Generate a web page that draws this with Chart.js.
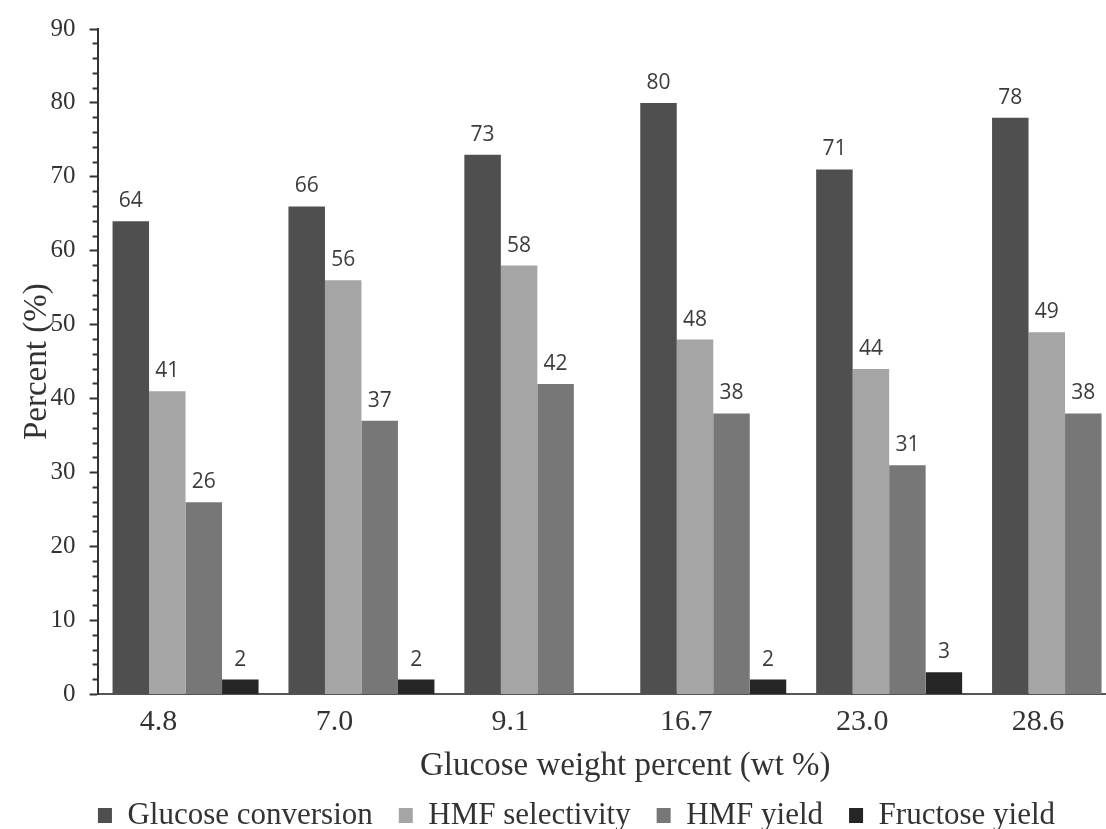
<!DOCTYPE html>
<html><head><meta charset="utf-8">
<script src="https://cdn.jsdelivr.net/npm/chart.js@4/dist/chart.umd.min.js"></script>
<style>
html,body{margin:0;padding:0;background:#fff;overflow:hidden;}
#wrap{width:1106px;height:829px;overflow:hidden;position:relative;background:#fff;}
canvas{display:block;}
</style></head><body>
<div id="wrap"><canvas id="c" width="1153" height="841"></canvas></div>
<script>
const categories = ['4.8', '7.0', '9.1', '16.7', '23.0', '28.6'];
const glucoseConversion = [64, 66, 73, 80, 71, 78];
const hmfSelectivity = [41, 56, 58, 48, 44, 49];
const hmfYield = [26, 37, 42, 38, 31, 38];
const fructoseYield = [2, 2, null, 2, 3, null];
const seriesNames = ['Glucose conversion', 'HMF selectivity', 'HMF yield', 'Fructose yield'];
const yMin = 0, yMax = 90, yMajorStep = 10, yMinorStep = 2;

const serif = '"Liberation Serif", "Times New Roman", serif';

const valueLabels = {
  id: 'valueLabels',
  afterDatasetsDraw(chart) {
    const ctx = chart.ctx;
    ctx.save();
    ctx.font = '21px "Open Sans", sans-serif';
    ctx.fillStyle = '#3c3c3c';
    ctx.textAlign = 'center';
    ctx.textBaseline = 'alphabetic';
    chart.data.datasets.forEach((ds, i) => {
      const meta = chart.getDatasetMeta(i);
      meta.data.forEach((bar, j) => {
        const v = ds.data[j];
        if (v === null || v === undefined) return;
        ctx.fillText(String(v), bar.x, bar.y - 14);
      });
    });
    ctx.restore();
  }
};

new Chart(document.getElementById('c'), {
  type: 'bar',
  data: {
    labels: categories,
    datasets: [
      { label: seriesNames[0], data: glucoseConversion, backgroundColor: '#4f4f4f' },
      { label: seriesNames[1], data: hmfSelectivity, backgroundColor: '#a5a5a5' },
      { label: seriesNames[2], data: hmfYield, backgroundColor: '#777777' },
      { label: seriesNames[3], data: fructoseYield, backgroundColor: '#262626' }
    ]
  },
  options: {
    responsive: false,
    animation: false,
    devicePixelRatio: 1,
    layout: { padding: { top: 29, left: 0, right: 0, bottom: 0 } },
    datasets: { bar: { categoryPercentage: 0.83, barPercentage: 1.0 } },
    plugins: {
      legend: {
        position: 'bottom',
        labels: {
          boxWidth: 14, boxHeight: 15, padding: 26,
          color: '#333', font: { family: serif, size: 31 }
        }
      },
      tooltip: { enabled: false }
    },
    scales: {
      x: {
        grid: { display: false, drawTicks: false },
        border: { display: true, color: '#555', width: 2 },
        ticks: { color: '#333', font: { family: serif, size: 30 }, padding: 10, labelOffset: -27, maxRotation: 0 },
        title: { display: true, text: 'Glucose weight percent (wt %)', color: '#333',
                 font: { family: serif, size: 33 }, padding: { top: -4, bottom: -12 } }
      },
      y: {
        min: yMin, max: yMax,
        grid: {
          drawOnChartArea: false, drawTicks: true, tickLength: 8, tickWidth: 2, tickColor: '#333',
          tickBorderDash: (ctx) => (ctx.tick && ctx.tick.value % yMajorStep === 0) ? [] : [0, 3, 5, 100]
        },
        border: { display: true, color: '#333', width: 2 },
        ticks: {
          stepSize: yMinorStep, autoSkip: false, maxTicksLimit: 100,
          color: '#333', font: { family: serif, size: 25 }, padding: 14,
          callback: (v) => (v % yMajorStep === 0 ? String(v) : '')
        },
        title: { display: true, text: 'Percent (%)', color: '#333',
                 font: { family: serif, size: 33 }, padding: { top: 18, bottom: -21 } }
      }
    }
  },
  plugins: [valueLabels]
});
</script>
</body></html>
